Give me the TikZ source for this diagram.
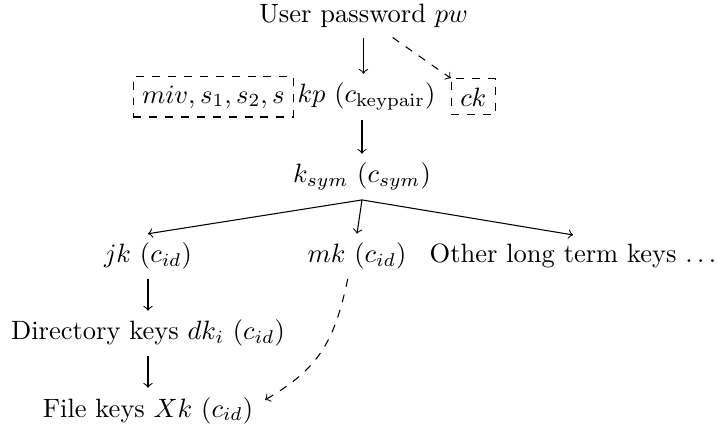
\documentclass[tikz,border=0pt]{standalone}
\usepackage{xcolor}
\usetikzlibrary{positioning}

\tikzset{
  keybox/.style={draw, dashed, rectangle},
  derive/.style={->},
  optderive/.style={->, dashed}
}

\begin{document}
\begin{tikzpicture}[every node/.style={anchor=base}]
    \useasboundingbox (0,0) rectangle (9.51,-5.703);

    % Password
    \node (pw) at (4.821,-0.305) {User password $pw$};

    % Key pair and stored values
    \node (kp) at (4.861,-1.366) {$kp$ ($c_{\mathrm{keypair}}$)};
    \node[keybox, left=-2.2pt of kp] (miv) {$miv, s_1, s_2, s$};
    \node[keybox, right=2.3pt of kp] (ck) {$ck$};

    % Symmetric key
    \node (ksym) at (4.801,-2.427) {$k_{sym}$ ($c_{sym}$)};

    % Long term keys
    \node (jk) at (1.963,-3.488) {$jk$ ($c_{id}$)};
    \node (mk) at (4.735,-3.488) {$mk$ ($c_{id}$)};
    \node (other) at (7.600,-3.488) {Other long term keys $\ldots$};

    % Directory and file keys
    \node (dir) at (1.963,-4.509) {Directory keys $dk_i$ ($c_{id}$)};
    \node (file) at (1.963,-5.531) {File keys $Xk$ ($c_{id}$)};

    % Connections
    \draw[derive] (pw.south) -- (pw.south |- kp.north);
    \draw[optderive] ([xshift=11pt]pw.south) -- (ck.north west);
    \draw[derive] (ksym.north |- kp.south) -- (ksym.north);
    \draw[derive] (ksym.south) -- (jk.north);
    \draw[derive] (ksym.south) -- (mk.north);
    \draw[derive] (ksym.south) -- (other.north);
    \draw[derive] (jk.south) -- (dir.north);
    \draw[derive] (dir.south) -- (file.north);
    \draw[optderive] ([xshift=-3.5pt]mk.south) to[out=-102, in=30, looseness=1.1] ([xshift=1pt, yshift=4pt]file.east);
\end{tikzpicture}
\end{document}
